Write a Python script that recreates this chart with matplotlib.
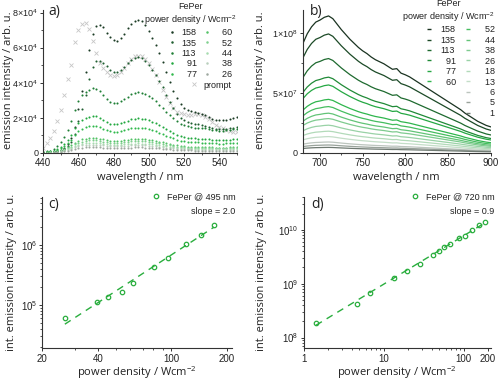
import matplotlib.pyplot as plt
import numpy as np
from matplotlib.lines import Line2D
from matplotlib.ticker import FuncFormatter, MultipleLocator, FixedLocator, NullFormatter, LogLocator

# ---------- panel a: spectra 440-550 nm (values in 1e4) ----------
wl_a = np.arange(440, 551, 2)
shape_hi_a = [0.02, 0.03, 0.05, 0.08, 0.12, 0.18, 0.30, 0.50, 0.85, 1.50,
              2.50, 3.50, 4.60, 5.85, 6.80, 7.25, 7.30, 7.15, 6.85, 6.60,
              6.42, 6.40, 6.55, 6.80, 7.10, 7.35, 7.52, 7.58, 7.50, 7.30,
              6.95, 6.55, 6.15, 5.70, 5.20, 4.60, 4.05, 3.55, 3.10, 2.80,
              2.58, 2.45, 2.37, 2.30, 2.25, 2.20, 2.15, 2.05, 1.95, 1.88,
              1.85, 1.85, 1.88, 1.95, 2.00, 2.05]
shape_lo_a = [0.03, 0.05, 0.08, 0.13, 0.22, 0.36, 0.55, 0.80, 1.10, 1.50,
              1.82, 2.00, 2.12, 2.20, 2.24, 2.22, 2.14, 2.00, 1.88, 1.78,
              1.74, 1.75, 1.80, 1.88, 1.96, 2.03, 2.08, 2.10, 2.08, 2.04,
              1.97, 1.90, 1.80, 1.68, 1.55, 1.42, 1.30, 1.20, 1.10, 1.02,
              0.97, 0.93, 0.90, 0.88, 0.87, 0.86, 0.85, 0.83, 0.80, 0.78,
              0.77, 0.77, 0.78, 0.80, 0.82, 0.83]
prompt_a = [0.30, 0.55, 0.85, 1.25, 1.80, 2.45, 3.30, 4.20, 5.00, 6.30,
            7.00, 7.35, 7.40, 7.05, 6.40, 5.70, 5.15, 4.85, 4.60, 4.45,
            4.40, 4.45, 4.60, 4.85, 5.10, 5.35, 5.50, 5.55, 5.50, 5.35,
            5.10, 4.80, 4.45, 4.05, 3.60, 3.20, 2.85, 2.55, 2.35, 2.25,
            2.20, 2.18, 2.18, 2.20, 2.20, 2.15, 2.05, 1.90, 1.75, 1.60,
            1.50, 1.40, 1.30, 1.25, 1.20, 1.20]
power_a = [158, 135, 113, 91, 77, 60, 52, 44, 38, 26]
peak_a = [7.58, 5.45, 3.67, 2.10, 1.53, 0.85, 0.72, 0.57, 0.47, 0.33]
colors_a = ['#1b3b24', '#1f5e30', '#1f7f35', '#22a83f', '#30b84c',
            '#52c266', '#7fd08e', '#a6dcaf', '#b9cfbc', '#9ea89f']

# ---------- panel b: spectra 680-900 nm (values in 1e7) ----------
wl_b = np.arange(680, 901, 5)
shape_b = [0.80, 0.87, 0.92, 0.955, 0.97, 0.99, 1.00, 0.98, 0.94, 0.90,
           0.865, 0.83, 0.80, 0.77, 0.745, 0.725, 0.70, 0.68, 0.665, 0.65,
           0.63, 0.61, 0.615, 0.582, 0.57, 0.555, 0.535, 0.515, 0.495, 0.475,
           0.455, 0.435, 0.415, 0.395, 0.375, 0.355, 0.335, 0.315, 0.29, 0.27,
           0.25, 0.23, 0.215, 0.20, 0.19]
power_b = [158, 135, 113, 91, 77, 60, 52, 44, 38, 26, 18, 13, 6, 5, 1]
peak_b = [11.4, 9.9, 7.85, 6.3, 5.65, 4.45, 3.85, 3.3, 2.85, 2.3, 1.8, 1.35, 0.9, 0.65, 0.45]
colors_b = ['#1a3321', '#1c4a27', '#1e6a2f', '#208a37', '#25a843', '#2fb64d',
            '#45bd5f', '#62c477', '#7ecb8f', '#99d2a6', '#b2dab9', '#c4dec8',
            '#bcc5be', '#99a39b', '#6f7a72']

# ---------- panel c / d: integrated intensity vs power ----------
power_c = [26.5, 39.4, 45.6, 53.8, 62.3, 80.7, 96.5, 121, 145, 171]
int_c = [6.2e4, 1.11e5, 1.37e5, 1.66e5, 2.35e5, 4.3e5, 6.0e5, 1.03e6, 1.5e6, 2.15e6]
slope_c = 2.0
power_d = [1.43, 4.65, 6.7, 13.6, 19.6, 28.2, 41.4, 48.7, 57.4, 66.8, 86.7, 103, 128.5, 154, 183]
int_d = [1.9e8, 4.2e8, 6.7e8, 1.3e9, 1.73e9, 2.34e9, 3.44e9, 4.07e9, 4.7e9, 5.5e9,
         6.9e9, 7.7e9, 9.7e9, 1.22e10, 1.41e10]
slope_d = 0.9
green = '#2aae3e'
txt = '#222222'

plt.rcParams['font.family'] = ['Liberation Sans', 'DejaVu Sans']
plt.rcParams['font.size'] = 7
plt.rcParams['mathtext.fontset'] = 'custom'
plt.rcParams['mathtext.rm'] = 'Liberation Sans'
plt.rcParams['axes.linewidth'] = 0.8
plt.rcParams['axes.edgecolor'] = '#333333'
for a in ['xtick', 'ytick']:
    plt.rcParams[a + '.direction'] = 'out'
    plt.rcParams[a + '.major.size'] = 2.5
    plt.rcParams[a + '.minor.size'] = 1.5
    plt.rcParams[a + '.major.width'] = 0.7
    plt.rcParams[a + '.minor.width'] = 0.6
    plt.rcParams[a + '.color'] = '#333333'
    plt.rcParams[a + '.labelcolor'] = txt
    plt.rcParams[a + '.labelsize'] = 7
    plt.rcParams[a + '.major.pad'] = 1.2

label_font = dict(family=['Open Sans', 'DejaVu Sans'], size=8, color=txt)
wcm = r'power density / Wcm$^{\mathregular{-2}}$'

fig = plt.figure(figsize=(5, 3.82), dpi=100)
ax_a = fig.add_axes([0.0866, 0.600, 0.387, 0.374])
ax_b = fig.add_axes([0.606, 0.600, 0.375, 0.374])
ax_c = fig.add_axes([0.0846, 0.088, 0.379, 0.397])
ax_d = fig.add_axes([0.607, 0.088, 0.375, 0.397])
for ax in [ax_a, ax_b, ax_c, ax_d]:
    ax.spines['top'].set_visible(False)
    ax.spines['right'].set_visible(False)


def sci_fmt(v, pos):
    if abs(v) < 1e-12:
        return '0'
    if v < 0:
        return ''
    e = int(np.floor(np.log10(v) + 1e-9))
    m = v / 10 ** e
    return r'$\mathregular{%d×10^{%d}}$' % (round(m), e)


def spectra_legend(ax, handles, labels, anchor, textpad, colspace):
    leg = ax.legend(handles, labels, ncol=2, loc='upper right', bbox_to_anchor=anchor,
                    frameon=False, fontsize=6.5, title='FePer\n' + wcm,
                    title_fontsize=6.5, handlelength=0.8, handletextpad=textpad,
                    columnspacing=colspace, labelspacing=0.16, borderpad=0,
                    borderaxespad=0, alignment='right')
    leg.get_title().set_multialignment('center')
    leg.get_title().set_color(txt)
    for t in leg.get_texts():
        t.set_color(txt)
    return leg


def pad(p, tail=''):
    return (f'{p:>3}' + tail).replace(' ', '\u2007')


# panel a
ax_a.plot(wl_a, np.array(prompt_a) * 1e4, ls='none', marker='x', ms=2.4, mew=0.6,
          color='#c6c6c6', zorder=1)
for p, pk, c in zip(power_a, peak_a, colors_a):
    shape = np.array(shape_hi_a if p >= 135 else shape_lo_a)
    ax_a.plot(wl_a, shape / shape.max() * pk * 1e4, ls='none', marker='o', ms=1.5,
              mew=0, color=c, zorder=2)
ax_a.set_xlim(440, 550)
ax_a.set_ylim(0, 8.15e4)
ax_a.xaxis.set_major_locator(MultipleLocator(20))
ax_a.xaxis.set_minor_locator(MultipleLocator(10))
ax_a.yaxis.set_major_locator(MultipleLocator(2e4))
ax_a.yaxis.set_minor_locator(MultipleLocator(1e4))
ax_a.yaxis.set_major_formatter(FuncFormatter(sci_fmt))
ax_a.tick_params(axis='y', labelsize=6.5)
ax_a.set_xlabel('wavelength / nm', **label_font)
ax_a.set_ylabel('emission intensity / arb. u.', **label_font)
ax_a.xaxis.set_label_coords(0.5, -0.135)
ax_a.yaxis.set_label_coords(-0.15, 0.51)
ax_a.text(0.025, 0.99, 'a)', transform=ax_a.transAxes, va='center',
          family=['Open Sans', 'DejaVu Sans'], size=10, color=txt)
h_a = [Line2D([], [], ls='none', marker='o', ms=1.8, mew=0, color=c) for c in colors_a]
labels = [pad(p) for p in power_a[:5]] + [pad(p, ' ') for p in power_a[5:]]
leg_a = spectra_legend(ax_a, h_a, labels, (1.0, 1.055), 0.7, 0.7)
h_prompt = Line2D([], [], ls='none', marker='x', ms=2.4, mew=0.6, color='#c6c6c6')
leg_p = ax_a.legend([h_prompt], ['prompt'], loc='upper right', bbox_to_anchor=(0.974, 0.505),
                    frameon=False, fontsize=6.5, handlelength=0.8, handletextpad=0.7,
                    borderpad=0, borderaxespad=0)
leg_p.get_texts()[0].set_color(txt)
ax_a.add_artist(leg_a)

# panel b
for pk, c in zip(peak_b, colors_b):
    ax_b.plot(wl_b, np.array(shape_b) * pk * 1e7, lw=0.9, color=c)
ax_b.set_xlim(680, 900)
ax_b.set_ylim(0, 1.19e8)
ax_b.xaxis.set_major_locator(MultipleLocator(50))
ax_b.xaxis.set_minor_locator(MultipleLocator(25))
ax_b.yaxis.set_major_locator(MultipleLocator(5e7))
ax_b.yaxis.set_minor_locator(MultipleLocator(2.5e7))
ax_b.yaxis.set_major_formatter(FuncFormatter(sci_fmt))
ax_b.tick_params(axis='y', labelsize=6.5)
ax_b.set_xlabel('wavelength / nm', **label_font)
ax_b.set_ylabel('emission intensity / arb. u.', **label_font)
ax_b.xaxis.set_label_coords(0.5, -0.135)
ax_b.yaxis.set_label_coords(-0.2, 0.51)
ax_b.text(0.038, 0.99, 'b)', transform=ax_b.transAxes, va='center',
          family=['Open Sans', 'DejaVu Sans'], size=10, color=txt)
h_b = [Line2D([], [], ls='none', marker='_', ms=2.5, mew=1.0, color=c) for c in colors_b]
handles = h_b[:6] + [Line2D([], [], ls='none')] * 3 + h_b[6:]
labels = [pad(p) for p in power_b[:6]] + [''] * 3 + [pad(p) for p in power_b[6:]]
spectra_legend(ax_b, handles, labels, (1.023, 1.075), 0.93, 0.93)


# panels c, d
def power_panel(ax, power, inten, slope, nm, letter, lx, ylx):
    power = np.array(power)
    inten = np.array(inten)
    b = np.mean(np.log10(inten) - slope * np.log10(power))
    xf = np.array([power.min(), power.max()])
    ax.plot(xf, 10 ** b * xf ** slope, ls=(0, (5, 4)), lw=1.0, color=green)
    ax.plot(power, inten, ls='none', marker='o', ms=3.2, mew=0.9, mfc='none',
            mec=green, label=f'FePer @ {nm} nm')
    ax.set_xscale('log')
    ax.set_yscale('log')
    ax.set_xlabel(wcm, **label_font)
    ax.set_ylabel('int. emission intensity / arb. u.', **label_font)
    ax.xaxis.set_label_coords(0.5, -0.102)
    ax.yaxis.set_label_coords(ylx, 0.5)
    ax.text(lx, 0.95, letter, transform=ax.transAxes, va='center',
            family=['Open Sans', 'DejaVu Sans'], size=10, color=txt)
    leg = ax.legend(loc='upper right', bbox_to_anchor=(1.02, 1.03), frameon=False,
                    fontsize=6.5, handlelength=0.8, handletextpad=0.8,
                    borderpad=0, borderaxespad=0)
    for t in leg.get_texts():
        t.set_color(txt)
    ax.text(1.02, 0.90, f'slope = {slope:.1f}', transform=ax.transAxes, ha='right',
            va='center', size=6.5, color=txt)
    ax.yaxis.set_minor_locator(LogLocator(subs=np.arange(2, 10)))
    ax.yaxis.set_minor_formatter(NullFormatter())
    ax.xaxis.set_minor_formatter(NullFormatter())


power_panel(ax_c, power_c, int_c, slope_c, 495, 'c)', 0.03, -0.134)
ax_c.set_xlim(20, 213)
ax_c.set_ylim(1.9e4, 6.4e6)
ax_c.xaxis.set_major_locator(FixedLocator([20, 40, 100, 200]))
ax_c.xaxis.set_major_formatter(FuncFormatter(lambda v, p: f'{v:g}'))
ax_c.xaxis.set_minor_locator(LogLocator(subs=np.arange(2, 10)))

power_panel(ax_d, power_d, int_d, slope_d, 720, 'd)', 0.04, -0.194)
ax_d.set_xlim(1, 220)
ax_d.set_ylim(6.3e7, 4.1e10)
ax_d.xaxis.set_major_locator(FixedLocator([1, 10, 100, 200]))
ax_d.xaxis.set_major_formatter(FuncFormatter(lambda v, p: f'{v:g}'))
ax_d.xaxis.set_minor_locator(LogLocator(subs=np.arange(2, 10)))

fig.savefig('out.png', dpi=100)
